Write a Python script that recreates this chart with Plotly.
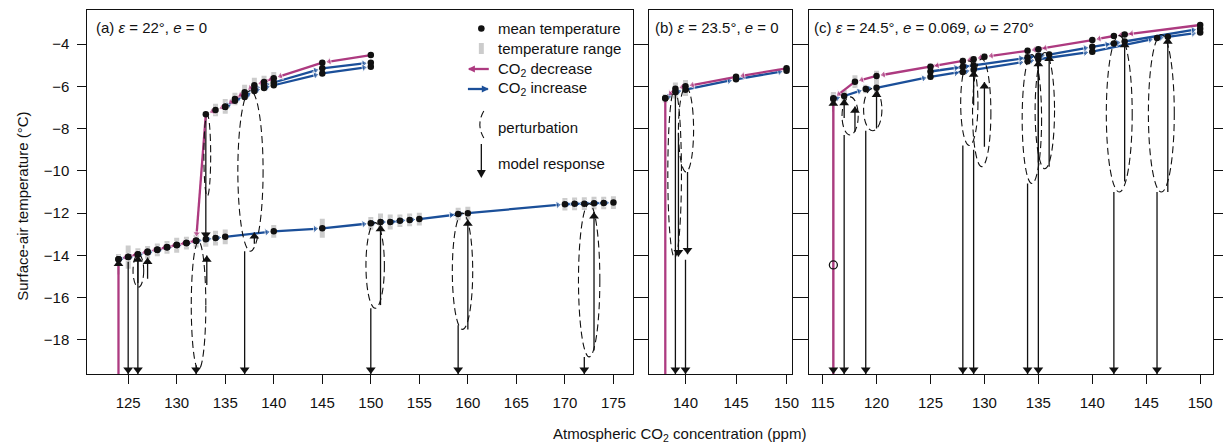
import plotly.graph_objects as go

W, H = 1223, 445
MAGENTA = "#ad3a80"
BLUE = "#1b4f99"
GRAY = "#cccccc"
INK = "#111111"
FONT = "Liberation Sans, Arial, Helvetica, sans-serif"
FS = 15

SNOWBALL_T = -40.0          # off-scale snowball state (collapse target)
Y_RANGE = [-19.61, -2.39]
Y_TICKS = [-18, -16, -14, -12, -10, -8, -6, -4]

# ---------------- panel (a) ----------------
a_ticks = [125, 130, 135, 140, 145, 150, 155, 160, 165, 170, 175]
a_dec_x = [150, 145, 140, 139, 138, 137, 136, 135, 134, 133, 132, 131, 130, 129, 128, 127, 126, 125, 124, 124]
a_dec_T = [-4.52, -4.88, -5.62, -5.80, -5.95, -6.28, -6.60, -6.95, -7.12, -7.32, -13.30, -13.40, -13.50,
           -13.60, -13.72, -13.82, -13.94, -14.06, -14.18, SNOWBALL_T]
a_dec_rng = [0.10, 0.12, 0.30, 0.30, 0.35, 0.35, 0.30, 0.35, 0.30, 0.10, 0, 0, 0, 0, 0, 0, 0, 0, 0, 0]

a_inc_low_x = [124, 125, 126, 127, 128, 129, 130, 131, 132, 133, 134, 135, 140, 145, 150, 151, 152, 153, 154,
               155, 159, 160, 170, 171, 172, 173, 174, 175]
a_inc_low_T = [-14.18, -14.08, -13.96, -13.86, -13.74, -13.62, -13.52, -13.42, -13.32, -13.24, -13.18, -13.12,
               -12.86, -12.72, -12.48, -12.42, -12.42, -12.36, -12.32, -12.28, -12.04, -12.00, -11.58, -11.56,
               -11.55, -11.53, -11.52, -11.50]
a_inc_low_rng = [0.25, 0.55, 0.30, 0.30, 0.30, 0.30, 0.35, 0.30, 0.30, 0.35, 0.35, 0.35, 0.30, 0.45, 0.30, 0.40,
                 0.35, 0.30, 0.30, 0.30, 0.30, 0.30, 0.30, 0.30, 0.30, 0.30, 0.30, 0.30]
a_inc_up1_x = [135, 136, 137, 138, 139, 140, 145, 150]
a_inc_up1_T = [-6.98, -6.68, -6.42, -6.12, -5.97, -5.82, -5.15, -4.88]
a_inc_up1_rng = [0, 0, 0, 0, 0, 0, 0.1, 0.1]
a_inc_up2_x = [137, 138, 139, 140, 145, 150]
a_inc_up2_T = [-6.50, -6.22, -6.08, -5.95, -5.39, -5.07]
a_inc_up2_rng = [0, 0, 0, 0, 0.1, 0.1]

a_ell_x0 = [125.5, 132.8, 131.5, 136.3, 149.5, 158.4, 171.4]
a_ell_x1 = [126.6, 133.5, 133.0, 138.9, 151.4, 160.5, 173.6]
a_ell_top = [-13.95, -7.35, -13.35, -6.20, -12.45, -12.00, -11.55]
a_ell_bot = [-15.50, -11.20, -19.40, -13.80, -16.50, -17.50, -18.80]

a_arr_x = [124, 125, 126, 126, 127, 132, 133, 133.1, 137, 138, 150, 151, 159, 160, 172, 173]
a_arr_from = [-14.9, -14.3, -14.0, -15.3, -15.1, -19.2, -7.35, -15.4, -13.8, -13.45, -16.5, -16.35, -17.3,
              -17.5, -18.8, -18.5]
a_arr_to = [-14.2, SNOWBALL_T, SNOWBALL_T, -14.0, -14.1, SNOWBALL_T, -13.22, -14.0, SNOWBALL_T, -12.9,
            SNOWBALL_T, -12.55, SNOWBALL_T, -12.3, SNOWBALL_T, -11.95]

# ---------------- panel (b) ----------------
b_ticks = [140, 145, 150]
b_dec_x = [150, 145, 140, 139, 138, 138]
b_dec_T = [-5.15, -5.55, -6.00, -6.12, -6.57, SNOWBALL_T]
b_dec_rng = [0.10, 0.10, 0.30, 0.30, 0.20, 0]
b_inc_x = [138, 139, 140, 145, 150]
b_inc_T = [-6.57, -6.28, -6.16, -5.67, -5.26]
b_inc_rng = [0, 0.30, 0.30, 0.10, 0.10]

b_ell_x0 = [138.25, 139.3]
b_ell_x1 = [139.6, 140.8]
b_ell_top = [-6.15, -6.05]
b_ell_bot = [-14.1, -10.05]

b_arr_x = [139.0, 139.3, 140.0, 140.2]
b_arr_from = [-6.3, -8.2, -14.2, -10.05]
b_arr_to = [SNOWBALL_T, -14.05, SNOWBALL_T, -13.95]

# ---------------- panel (c) ----------------
c_ticks = [115, 120, 125, 130, 135, 140, 145, 150]
c_dec_x = [150, 143, 142, 140, 135, 134, 130, 129, 128, 125, 120, 118, 116, 116]
c_dec_T = [-3.10, -3.55, -3.62, -3.81, -4.25, -4.32, -4.60, -4.72, -4.80, -5.07, -5.51, -5.78, -6.57, SNOWBALL_T]
c_dec_rng = [0.10, 0.10, 0.10, 0.10, 0.15, 0.15, 0.15, 0.15, 0.15, 0.15, 0.25, 0.30, 0.30, 0]
c_inc1_x = [116, 117, 119, 120, 125, 128, 129, 134, 135, 140, 146, 147, 150]
c_inc1_T = [-6.60, -6.46, -6.13, -6.07, -5.55, -5.32, -5.22, -4.82, -4.72, -4.36, -3.72, -3.66, -3.45]
c_inc1_rng = [0.30, 0.30, 0.20, 0.35, 0.15, 0.15, 0.15, 0.15, 0.15, 0.15, 0.10, 0.10, 0.10]
c_inc2_x = [125, 128, 129, 134, 135, 136, 140, 142, 143, 150]
c_inc2_T = [-5.30, -5.08, -5.00, -4.62, -4.55, -4.50, -4.13, -3.97, -3.88, -3.28]
c_inc2_rng = [0.15, 0.15, 0.15, 0.15, 0.15, 0.15, 0.10, 0.10, 0.10, 0.10]
c_open_x = [116]
c_open_T = [-14.45]

c_ell_x0 = [116.8, 118.8, 127.8, 128.9, 133.5, 134.7, 141.3, 145.2]
c_ell_x1 = [118.3, 120.5, 129.4, 130.6, 135.3, 136.5, 143.7, 147.6]
c_ell_top = [-6.50, -6.10, -4.80, -4.70, -4.50, -4.40, -3.60, -3.55]
c_ell_bot = [-8.30, -8.10, -8.80, -9.80, -10.60, -9.90, -11.00, -11.00]

c_arr_x = [116, 116, 117, 117, 118, 119, 120, 128, 129, 129, 130, 134, 135, 135, 136, 142, 143, 146, 147]
c_arr_from = [-6.6, -7.2, -8.3, -7.5, -8.15, -8.1, -8.0, -8.8, -9.0, -6.9, -8.86, -10.6, -4.72, -9.6, -9.8,
              -11.0, -10.5, -11.0, -11.0]
c_arr_to = [SNOWBALL_T, -6.62, SNOWBALL_T, -6.6, -6.95, SNOWBALL_T, -6.2, SNOWBALL_T, SNOWBALL_T, -5.25, -5.8,
            SNOWBALL_T, SNOWBALL_T, -4.75, -4.5, SNOWBALL_T, -3.85, SNOWBALL_T, -3.68]

panels = [
    dict(xpx=[88, 637], xrange=[120.8, 177.0], ticks=a_ticks,
         dec=[(a_dec_x, a_dec_T, a_dec_rng)],
         inc=[(a_inc_low_x, a_inc_low_T, a_inc_low_rng), (a_inc_up1_x, a_inc_up1_T, a_inc_up1_rng),
              (a_inc_up2_x, a_inc_up2_T, a_inc_up2_rng)],
         ell=(a_ell_x0, a_ell_x1, a_ell_top, a_ell_bot), arr=(a_arr_x, a_arr_from, a_arr_to),
         title="(a) <i>ε</i> = 22°, <i>e</i> = 0", title_px=94.5),
    dict(xpx=[653, 797], xrange=[136.36, 150.52], ticks=b_ticks,
         dec=[(b_dec_x, b_dec_T, b_dec_rng)],
         inc=[(b_inc_x, b_inc_T, b_inc_rng)],
         ell=(b_ell_x0, b_ell_x1, b_ell_top, b_ell_bot), arr=(b_arr_x, b_arr_from, b_arr_to),
         title="(b) <i>ε</i> = 23.5°, <i>e</i> = 0", title_px=657.5),
    dict(xpx=[814, 1221], xrange=[113.71, 151.19], ticks=c_ticks,
         dec=[(c_dec_x, c_dec_T, c_dec_rng)],
         inc=[(c_inc1_x, c_inc1_T, c_inc1_rng), (c_inc2_x, c_inc2_T, c_inc2_rng)],
         ell=(c_ell_x0, c_ell_x1, c_ell_top, c_ell_bot), arr=(c_arr_x, c_arr_from, c_arr_to),
         title="(c) <i>ε</i> = 24.5°, <i>e</i> = 0.069, <i>ω</i> = 270°", title_px=817.5),
]


def PX(x):
    return x / W


def PY(y):
    return 1 - y / H


fig = go.Figure()
shapes = []
annotations = []
layout = dict(width=W, height=H, margin=dict(l=0, r=0, t=0, b=0), paper_bgcolor="white",
              plot_bgcolor="rgba(0,0,0,0)", showlegend=False,
              font=dict(family=FONT, size=FS, color=INK))

for i, p in enumerate(panels):
    sfx = "" if i == 0 else str(i + 1)
    xa, ya = "x" + sfx, "y" + sfx

    # temperature range bars
    bx, by = [], []
    for xs, ts, rs in p["dec"] + p["inc"]:
        for x, t, r in zip(xs, ts, rs):
            if r and t > SNOWBALL_T:
                bx += [x, x, None]
                by += [t - r, t + r, None]
    fig.add_trace(go.Scatter(x=bx, y=by, mode="lines", line=dict(color=GRAY, width=5),
                             xaxis=xa, yaxis=ya, hoverinfo="skip"))

    # model response arrows (shafts)
    sx, sy, hx, hy, hang = [], [], [], [], []
    for x, f, t in zip(*p["arr"]):
        tip = max(t, Y_RANGE[0])
        sx += [x, x, None]
        sy += [f, tip, None]
        hx.append(x)
        hy.append(tip)
        hang.append(0 if tip > f else 180)
    fig.add_trace(go.Scatter(x=sx, y=sy, mode="lines", line=dict(color=INK, width=1.3),
                             xaxis=xa, yaxis=ya, hoverinfo="skip"))

    # CO2 increase / decrease paths with direction arrowheads
    for paths, col in ((p["inc"], BLUE), (p["dec"], MAGENTA)):
        for xs, ts, rs in paths:
            sizes = [0 if (k == 0 or t <= SNOWBALL_T) else 7 for k, t in enumerate(ts)]
            fig.add_trace(go.Scatter(x=xs, y=ts, mode="lines+markers",
                                     line=dict(color=col, width=2.3),
                                     marker=dict(symbol="triangle-up", size=sizes, color=col,
                                                 angleref="previous", standoff=7),
                                     xaxis=xa, yaxis=ya, hoverinfo="skip"))

    # mean temperature dots
    dx, dy = [], []
    for xs, ts, rs in p["dec"] + p["inc"]:
        for x, t in zip(xs, ts):
            if t > SNOWBALL_T:
                dx.append(x)
                dy.append(t)
    fig.add_trace(go.Scatter(x=dx, y=dy, mode="markers", marker=dict(color=INK, size=6.5),
                             xaxis=xa, yaxis=ya, hoverinfo="skip"))

    # arrowheads
    fig.add_trace(go.Scatter(x=hx, y=hy, mode="markers",
                             marker=dict(symbol="triangle-up", size=8.5, angle=hang, standoff=4.25,
                                         color=INK),
                             cliponaxis=False, xaxis=xa, yaxis=ya, hoverinfo="skip"))

    if i == 2:
        fig.add_trace(go.Scatter(x=c_open_x, y=c_open_T, mode="markers",
                                 marker=dict(symbol="circle-open", size=8, color=INK, line=dict(width=1.3)),
                                 xaxis=xa, yaxis=ya, hoverinfo="skip"))

    # perturbation ellipses
    for x0, x1, top, bot in zip(*p["ell"]):
        shapes.append(dict(type="circle", xref=xa, yref=ya, x0=x0, x1=x1, y0=bot, y1=top,
                           line=dict(color=INK, width=1.1, dash="7px,4px"), layer="above"))

    xkey = "xaxis" + sfx
    ykey = "yaxis" + sfx
    layout[xkey] = dict(domain=[p["xpx"][0] / W, p["xpx"][1] / W], range=p["xrange"], tickvals=p["ticks"],
                        ticks="outside", ticklen=9, tickwidth=1, tickcolor=INK, showline=True,
                        linecolor=INK, linewidth=1.2, mirror=True, showgrid=False, zeroline=False,
                        anchor=ya, ticklabelstandoff=6, tickfont=dict(size=FS, color=INK))
    layout[ykey] = dict(domain=[1 - 374 / H, 1 - 10 / H], range=Y_RANGE, tickvals=Y_TICKS,
                        ticks="outside", ticklen=9, tickwidth=1, tickcolor=INK, showline=True,
                        linecolor=INK, linewidth=1.2, mirror="ticks", showgrid=False, zeroline=False,
                        anchor=xa, showticklabels=(i == 0), ticklabelstandoff=5,
                        tickfont=dict(size=FS, color=INK))

    annotations.append(dict(text=p["title"], x=PX(p["title_px"]), y=PY(28), xref="paper", yref="paper",
                            xanchor="left", yanchor="middle", showarrow=False, font=dict(size=FS)))

# axis titles
annotations.append(dict(text="Surface-air temperature (°C)", x=PX(22), y=PY(206), xref="paper", yref="paper",
                        textangle=-90, showarrow=False, xanchor="center", yanchor="middle",
                        font=dict(size=FS)))
annotations.append(dict(text="Atmospheric CO<sub>2</sub> concentration (ppm)", x=PX(684), y=PY(434),
                        xref="paper", yref="paper", showarrow=False, xanchor="center", yanchor="middle",
                        font=dict(size=FS)))

# legend (panel a)
LX, TX = 484.5, 499
legend_items = [("mean temperature", 28.5), ("temperature range", 48.5),
                ("CO<sub>2</sub> decrease", 69), ("CO<sub>2</sub> increase", 89),
                ("perturbation", 127.5), ("model response", 163.5)]
for txt, yy in legend_items:
    annotations.append(dict(text=txt, x=PX(TX), y=PY(yy), xref="paper", yref="paper", xanchor="left",
                            yanchor="middle", showarrow=False, font=dict(size=FS)))

shapes.append(dict(type="circle", xref="paper", yref="paper", x0=PX(LX - 3.3), x1=PX(LX + 3.3),
                   y0=PY(28.5 + 3.3), y1=PY(28.5 - 3.3), fillcolor=INK, line=dict(width=0)))
shapes.append(dict(type="rect", xref="paper", yref="paper", x0=PX(LX - 2.5), x1=PX(LX + 2.5),
                   y0=PY(54), y1=PY(43), fillcolor=GRAY, line=dict(width=0)))
shapes.append(dict(type="line", xref="paper", yref="paper", x0=PX(472), x1=PX(492), y0=PY(69), y1=PY(69),
                   line=dict(color=MAGENTA, width=2.3)))
shapes.append(dict(type="path", xref="paper", yref="paper",
                   path=f"M{PX(471)},{PY(69)} L{PX(478)},{PY(65.5)} L{PX(478)},{PY(72.5)} Z",
                   fillcolor=MAGENTA, line=dict(width=0)))
shapes.append(dict(type="line", xref="paper", yref="paper", x0=PX(471), x1=PX(491), y0=PY(89), y1=PY(89),
                   line=dict(color=BLUE, width=2.3)))
shapes.append(dict(type="path", xref="paper", yref="paper",
                   path=f"M{PX(492)},{PY(89)} L{PX(485)},{PY(85.5)} L{PX(485)},{PY(92.5)} Z",
                   fillcolor=BLUE, line=dict(width=0)))
shapes.append(dict(type="path", xref="paper", yref="paper",
                   path=f"M{PX(487)},{PY(111)} Q{PX(479)},{PY(124.5)} {PX(487)},{PY(138)}",
                   line=dict(color=INK, width=1.1, dash="7px,4px")))
shapes.append(dict(type="line", xref="paper", yref="paper", x0=PX(LX), x1=PX(LX), y0=PY(144), y1=PY(171),
                   line=dict(color=INK, width=1.3)))
shapes.append(dict(type="path", xref="paper", yref="paper",
                   path=f"M{PX(LX)},{PY(178)} L{PX(LX - 4.5)},{PY(170)} L{PX(LX + 4.5)},{PY(170)} Z",
                   fillcolor=INK, line=dict(width=0)))

layout["shapes"] = shapes
layout["annotations"] = annotations
fig.update_layout(**layout)
fig.write_html("out.html")
